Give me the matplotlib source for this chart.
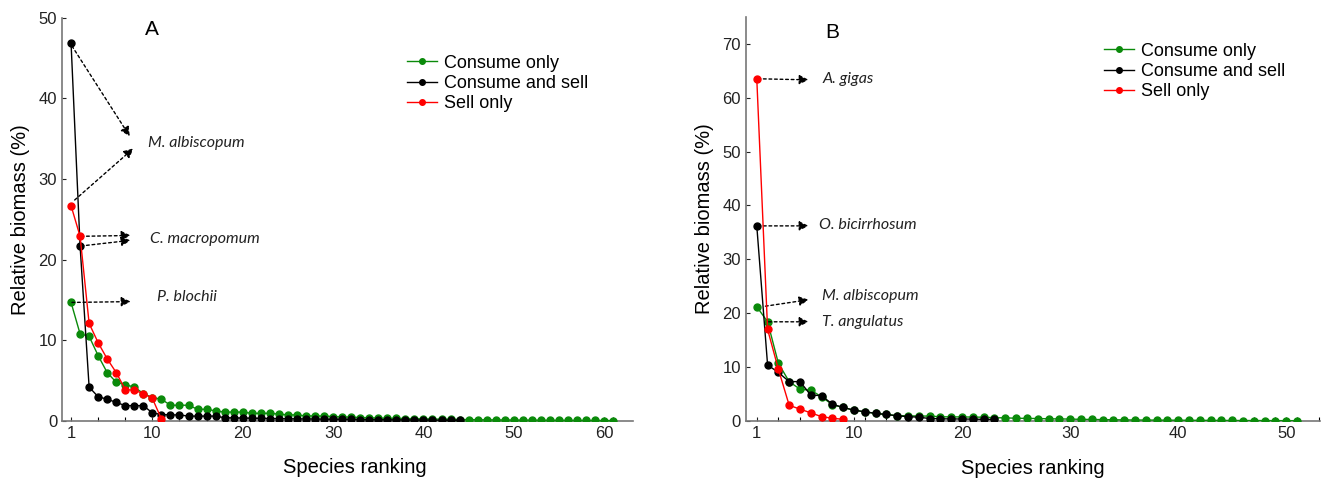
import numpy as np
import matplotlib.pyplot as plt

plt.rcParams['font.family'] = ['Liberation Sans', 'DejaVu Sans']

# Panel A values (% relative biomass by species rank)
a_consume_only = [14.7, 10.8, 10.5, 8.1, 6.0, 4.8, 4.5, 4.2, 3.4, 2.9,
                  2.7, 1.95, 1.95, 1.95, 1.45, 1.45, 1.25, 1.1, 1.1, 1.1,
                  0.95, 0.95, 0.95, 0.85, 0.75, 0.75, 0.62, 0.62, 0.6, 0.55,
                  0.5, 0.48, 0.42, 0.4, 0.35, 0.33, 0.32, 0.3, 0.28, 0.26,
                  0.24, 0.22, 0.2, 0.18, 0.16, 0.15, 0.14, 0.13, 0.12, 0.11,
                  0.1, 0.1, 0.09, 0.08, 0.08, 0.07, 0.07, 0.06, 0.06, 0.05, 0.05]
a_consume_sell = [46.9, 21.7, 4.2, 3.0, 2.7, 2.3, 1.9, 1.9, 1.9, 1.0,
                  0.8, 0.75, 0.75, 0.6, 0.6, 0.6, 0.6, 0.4, 0.38, 0.36,
                  0.34, 0.32, 0.3, 0.3, 0.28, 0.26, 0.25, 0.24, 0.22, 0.2,
                  0.2, 0.19, 0.18, 0.17, 0.16, 0.15, 0.14, 0.13, 0.12, 0.11,
                  0.1, 0.09, 0.08, 0.07]
a_sell_only = [26.7, 22.9, 12.1, 9.7, 7.7, 6.0, 3.9, 3.8, 3.4, 2.8, 0.25]

# Panel B values
b_consume_only = [21.2, 18.4, 10.7, 7.3, 5.9, 5.7, 4.5, 3.0, 2.5, 2.0,
                  1.7, 1.4, 1.2, 1.0, 0.95, 0.92, 0.9, 0.78, 0.75, 0.75,
                  0.72, 0.7, 0.6, 0.58, 0.5, 0.48, 0.45, 0.4, 0.38, 0.35,
                  0.3, 0.28, 0.25, 0.22, 0.2, 0.18, 0.17, 0.16, 0.15, 0.14,
                  0.13, 0.12, 0.11, 0.1, 0.09, 0.08, 0.08, 0.07, 0.06, 0.06, 0.05]
b_consume_sell = [36.2, 10.4, 9.0, 7.3, 7.3, 4.8, 4.7, 3.1, 2.5, 2.0,
                  1.7, 1.4, 1.2, 0.95, 0.8, 0.7, 0.45, 0.4, 0.38, 0.36,
                  0.34, 0.3, 0.28]
b_sell_only = [63.5, 17.0, 9.6, 2.9, 2.2, 1.5, 0.8, 0.5, 0.3]

labels = ["Consume only", "Consume and sell", "Sell only"]
colors = ["#0a8a0a", "black", "#ff0000"]

# annotations: (text, text xy, [arrow starts], [arrow ends])
a_notes = [
    ("M. albiscopum", (9.5, 34.5), [(1.1, 46.5), (1.4, 27.4)], [(7.5, 35.3), (7.9, 33.8)]),
    ("C. macropomum", (9.7, 22.6), [(2.1, 22.9), (2.1, 21.7)], [(7.6, 23.0), (7.6, 22.4)]),
    ("P. blochii", (10.5, 15.4), [(1.1, 14.7)], [(7.6, 14.8)]),
]
b_notes = [
    ("A. gigas", (7.1, 63.5), [(1.1, 63.5)], [(5.8, 63.3)]),
    ("O. bicirrhosum", (6.8, 36.3), [(1.1, 36.2)], [(5.8, 36.2)]),
    ("M. albiscopum", (7.0, 23.1), [(1.8, 21.3)], [(5.8, 22.5)]),
    ("T. angulatus", (7.0, 18.3), [(2.1, 18.4)], [(5.8, 18.4)]),
]

fig = plt.figure(figsize=(13.25, 4.8), dpi=100)
axA = fig.add_axes([0.0468, 0.123, 0.431, 0.840])
axB = fig.add_axes([0.563, 0.123, 0.433, 0.842])


def draw_panel(ax, series, xmax, ymax, yticks, minor_step, notes, letter, letter_xy,
               leg_anchor, xlabel_x):
    order = [0, 2, 1]  # green, red, black drawn in this order
    handles = [None] * 3
    for i in order:
        vals = series[i]
        x = np.arange(1, len(vals) + 1)
        h, = ax.plot(x, vals, '-o', color=colors[i], lw=1, ms=5,
                     label=labels[i], zorder=3 + i * 0.1)
        handles[i] = h
    ax.set_xlim(0, xmax)
    ax.set_ylim(0, ymax)
    top = int(xmax // 10) * 10
    ax.set_xticks([1] + list(range(10, top + 1, 10)))
    ax.set_xticks(np.arange(1, xmax, minor_step), minor=True)
    ax.set_yticks(yticks)
    ax.tick_params(axis='both', direction='in', length=3, width=0.8,
                   labelsize=12, colors='#222222')
    ax.tick_params(axis='x', which='minor', direction='in', length=3, width=0.8)
    for s in ['top', 'right']:
        ax.spines[s].set_visible(False)
    for s in ['left', 'bottom']:
        ax.spines[s].set_color('#777777')
        ax.spines[s].set_linewidth(1.2)
    ax.set_xlabel("Species ranking", fontsize=14.5)
    ax.xaxis.set_label_coords(xlabel_x, -0.093, transform=ax.transAxes)
    ax.xaxis.label.set_va('top')
    ax.set_ylabel("Relative biomass (%)", fontsize=14.5, labelpad=6)
    ax.text(letter_xy[0], letter_xy[1], letter, fontsize=15, ha='left', va='center')
    for text, txy, starts, ends in notes:
        ax.text(txy[0], txy[1], text, fontsize=11.5, style='italic',
                family=['Lato', 'DejaVu Sans'], ha='left', va='center', color='#222222')
        for st, en in zip(starts, ends):
            ax.annotate("", xy=en, xytext=st,
                        arrowprops=dict(arrowstyle='-|>', linestyle=(0, (2, 2)),
                                        color='black', lw=1, mutation_scale=14,
                                        shrinkA=0, shrinkB=0))
    leg = fig.legend(handles=handles, labels=labels, loc='upper left',
                     bbox_to_anchor=leg_anchor, frameon=False, fontsize=13,
                     handlelength=1.65, handletextpad=0.4, labelspacing=0.18,
                     borderpad=0, borderaxespad=0, markerscale=0.8)
    return leg


draw_panel(axA, [a_consume_only, a_consume_sell, a_sell_only], 63.2, 50,
           [0, 10, 20, 30, 40, 50], 3, a_notes, "A", (9.2, 48.6), (0.307, 0.886), 0.513)
draw_panel(axB, [b_consume_only, b_consume_sell, b_sell_only], 53.1, 75,
           [0, 10, 20, 30, 40, 50, 60, 70], 2, b_notes, "B", (7.3, 72.0), (0.833, 0.911), 0.5)

fig.savefig("out.png", dpi=100)
